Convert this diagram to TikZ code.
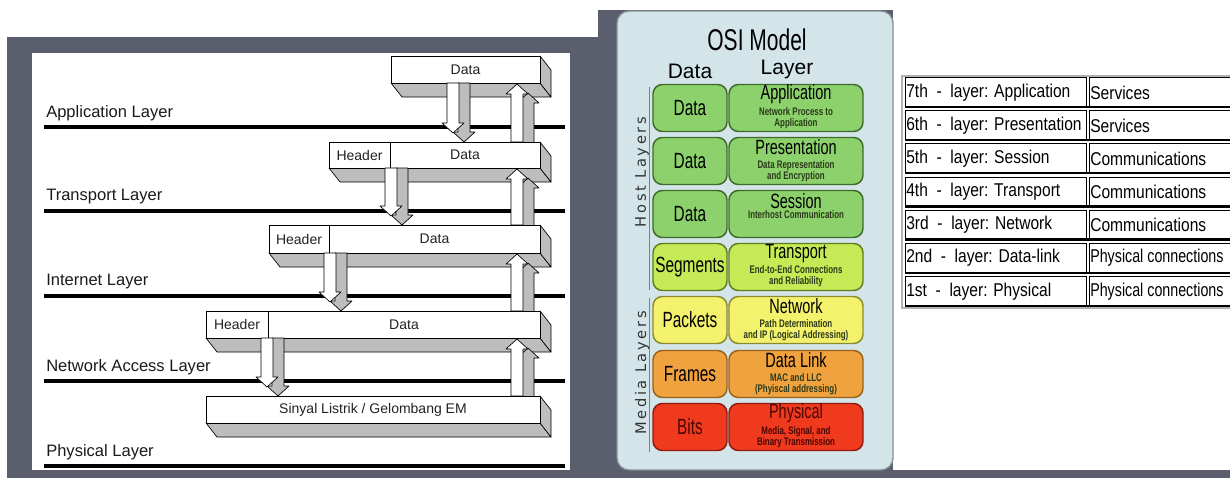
\documentclass[tikz,border=0pt]{standalone}
\usepackage{fontspec}
\setmainfont{Liberation Sans}
\newfontfamily\condf[FakeStretch=0.7]{Liberation Sans}
\newfontfamily\subf[FakeStretch=0.72]{Liberation Sans}
\newfontfamily\tblf[FakeStretch=0.84]{Liberation Sans}
\newfontfamily\tblnf[FakeStretch=0.77]{Liberation Sans}
\newfontfamily\vertf[LetterSpace=18]{DejaVu Sans}
\newcommand\fsz[1]{\fontsize{#1}{#1}\selectfont}
\definecolor{slate}{HTML}{5B5E6D}
\definecolor{osibg}{HTML}{D4E5EA}
\definecolor{osibd}{HTML}{7F8F94}
\definecolor{gfill}{HTML}{8DD16C}\definecolor{gbd}{HTML}{3E6B2A}
\definecolor{lfill}{HTML}{C5EA55}\definecolor{lbd}{HTML}{5E7D1E}
\definecolor{yfill}{HTML}{F4F16C}\definecolor{ybd}{HTML}{8C8A2E}
\definecolor{ofill}{HTML}{F0A23F}\definecolor{obd}{HTML}{99621B}
\definecolor{rfill}{HTML}{F03A1E}\definecolor{rbd}{HTML}{8E1B0E}
\definecolor{rtext}{HTML}{4A0505}
\definecolor{sidegray}{HTML}{BDBDBD}
\tikzset{
  layline/.style={line width=2.3pt,black},
  laylab/.style={anchor=west,inner sep=0pt,font=\fsz{12.4}\color[HTML]{1A1A1A}},
  boxside/.style={fill=sidegray,draw=black,line width=0.5pt,line join=round},
  boxfront/.style={fill=white,draw=black,line width=0.6pt},
  btext/.style={inner sep=0pt,font=\fsz{10.5}\color[HTML]{222222}},
  arrshade/.style={fill=sidegray,draw=black,line width=0.5pt,line join=round},
  arrfront/.style={fill=white,draw=black,line width=0.5pt,line join=round},
  osibox/.style={draw=#1,line width=1.1pt,rounded corners=7pt,minimum height=35.25pt,inner sep=0pt},
  osid/.style={osibox=#1,minimum width=55.5pt,font=\condf\fsz{16.5}},
  osil/.style={osibox=#1,minimum width=100.5pt},
  ttl/.style={inner sep=0pt,font=\condf\fsz{15.5}},
  subt/.style={inner sep=0pt,align=center,font=\subf\bfseries\fsz{8.25}\color[HTML]{2A3A1A}},
  vlab/.style={rotate=90,inner sep=0pt,font=\vertf\fsz{11}\color[HTML]{333333}},
  cellbd/.style={draw=black,line width=0.6pt},
  rowbot/.style={line width=1.8pt,black},
  tbltext/.style={anchor=west,inner sep=0pt,font=\tblf\fsz{13.9}}
}
% 3-D box: x1,y1,x2,y2
\newcommand\pbox[4]{%
  \filldraw[boxside] (#1,#4) -- (#3,#4) -- (#3+11,#4+14) -- (#1+11,#4+14) -- cycle;
  \filldraw[boxside] (#3,#2) -- (#3+11,#2+14) -- (#3+11,#4+14) -- (#3,#4) -- cycle;
  \filldraw[boxfront] (#1,#2) rectangle (#3,#4);}
% down arrow: cx, top, tip
\newcommand\pdarrow[3]{%
  \filldraw[arrshade,shift={(11,9)}] (#1-6,#2-9) -- (#1+6,#2-9) -- (#1+6,#3-10) -- (#1+11,#3-10) -- (#1,#3) -- (#1-11,#3-10) -- (#1-6,#3-10) -- cycle;
  \filldraw[arrfront] (#1-6,#2) -- (#1+6,#2) -- (#1+6,#3-10) -- (#1+11,#3-10) -- (#1,#3) -- (#1-11,#3-10) -- (#1-6,#3-10) -- cycle;}
% up arrow: cx, bottom, tip
\newcommand\puarrow[3]{%
  \filldraw[arrshade,shift={(11,9)}] (#1-6,#2) -- (#1-6,#3+10) -- (#1-11,#3+10) -- (#1,#3) -- (#1+11,#3+10) -- (#1+6,#3+10) -- (#1+6,#2) -- cycle;
  \filldraw[arrfront] (#1-6,#2) -- (#1-6,#3+10) -- (#1-11,#3+10) -- (#1,#3) -- (#1+11,#3+10) -- (#1+6,#3+10) -- (#1+6,#2) -- cycle;}
\begin{document}
\begin{tikzpicture}[x=0.75pt,y=-0.75pt]
\useasboundingbox (0,0) rectangle (1230,478);
\clip (0,0) rectangle (1230,478);
\fill[white] (0,0) rectangle (1230,478);
% ---------------- left panel ----------------
\fill[slate] (7,37) rectangle (617,478);
\fill[slate] (598,10) rectangle (893,478);
\fill[slate] (893,470) rectangle (1230,478);
\fill[white] (32,53) rectangle (570,470);
\draw[layline] (44,127) -- (565,127);
\draw[layline] (44,211) -- (565,211);
\draw[layline] (44,296) -- (565,296);
\draw[layline] (44,381) -- (565,381);
\draw[layline] (44,466) -- (565,466);
\node[laylab] (lapp) at (46,113) {Application Layer};
\node[laylab] (ltra) at (46,197) {Transport Layer};
\node[laylab] (lint) at (46,282) {Internet Layer};
\node[laylab] (lnet) at (46,367) {Network Access Layer};
\node[laylab] (lphy) at (46,452) {Physical Layer};
% box 1
\pbox{391}{56}{540}{83}
\node[btext] (b1d) at (465.5,69.5) {Data};
\pdarrow{453}{83}{133}
\puarrow{517}{142}{84}
% box 2
\pbox{329}{142}{540}{168}
\draw[black,line width=0.6pt] (390,142) -- (390,168);
\node[btext] (b2h) at (359.5,155) {Header};
\node[btext] (b2d) at (465,155) {Data};
\pdarrow{391}{168}{216}
\puarrow{517}{225}{169}
% box 3
\pbox{269}{225}{540}{253}
\draw[black,line width=0.6pt] (329,225) -- (329,253);
\node[btext] (b3h) at (299,239) {Header};
\node[btext] (b3d) at (434.5,239) {Data};
\pdarrow{330}{253}{302}
\puarrow{517}{311}{254}
% box 4
\pbox{206}{311}{540}{338}
\draw[black,line width=0.6pt] (268,311) -- (268,338);
\node[btext] (b4h) at (237,324.5) {Header};
\node[btext] (b4d) at (404,324.5) {Data};
\pdarrow{267}{338}{387}
\puarrow{517}{396}{339}
% box 5
\pbox{206}{396}{540}{423}
\node[btext] (b5) at (373,409.5) {Sinyal Listrik / Gelombang EM};
% ---------------- OSI panel ----------------
\filldraw[fill=osibg,draw=osibd,line width=1pt,rounded corners=9pt] (617,11) rectangle (893,470);
\node[inner sep=0pt,font=\condf\fsz{22.5}] (osit) at (757,40) {OSI Model};
\node[inner sep=0pt,font=\fsz{15.75}] (hdata) at (690,71) {Data};
\node[inner sep=0pt,font=\fsz{15.75}] (hlayer) at (787,69) {Layer};
\draw[gray,line width=0.6pt] (649,87) -- (649,290);
\draw[gray,line width=0.6pt] (649,298) -- (649,452);
\node[vlab] (host) at (642,172) {Host Layers};
\node[vlab] (media) at (642,373) {Media Layers};
% row 1
\node[osid=gbd,fill=gfill] (d1) at (690,108) {Data};
\node[osil=gbd,fill=gfill] (l1) at (796,108) {};
\node[ttl] (t1) at (796,94) {Application};
\node[subt] (s1) at (796,118) {Network Process to\\Application};
% row 2
\node[osid=gbd,fill=gfill] (d2) at (690,161) {Data};
\node[osil=gbd,fill=gfill] (l2) at (796,161) {};
\node[ttl] (t2) at (796,147) {Presentation};
\node[subt] (s2) at (796,171) {Data Representation\\and Encryption};
% row 3
\node[osid=gbd,fill=gfill] (d3) at (690,214) {Data};
\node[osil=gbd,fill=gfill] (l3) at (796,214) {};
\node[ttl] (t3) at (796,201) {Session};
\node[subt] (s3) at (796,215) {Interhost Communication};
% row 4
\node[osid=lbd,fill=lfill] (d4) at (690,267) {Segments};
\node[osil=lbd,fill=lfill] (l4) at (796,267) {};
\node[ttl] (t4) at (796,254) {Transport};
\node[subt] (s4) at (796,276) {End-to-End Connections\\and Reliability};
% row 5
\node[osid=ybd,fill=yfill] (d5) at (690,320) {Packets};
\node[osil=ybd,fill=yfill] (l5) at (796,320) {};
\node[ttl] (t5) at (796,306) {Network};
\node[subt] (s5) at (796,330) {Path Determination\\and IP (Logical Addressing)};
% row 6
\node[osid=obd,fill=ofill] (d6) at (690,374) {Frames};
\node[osil=obd,fill=ofill] (l6) at (796,374) {};
\node[ttl] (t6) at (796,360) {Data Link};
\node[subt] (s6) at (796,384) {MAC and LLC\\(Phyiscal addressing)};
% row 7
\node[osid=rbd,fill=rfill,text=rtext] (d7) at (690,427) {Bits};
\node[osil=rbd,fill=rfill] (l7) at (796,427) {};
\node[ttl,text=rtext] (t7) at (796,413) {Physical};
\node[subt,text=rtext] (s7) at (796,437) {Media, Signal, and\\Binary Transmission};
% ---------------- table ----------------
\draw[gray!60,line width=1.2pt] (902,76) rectangle (1245,308);
\foreach \i/\a/\b in {0/{7th~~-~~layer: Application}/Services,
                      1/{6th~~-~~layer: Presentation}/Services,
                      2/{5th~~-~~layer: Session}/Communications,
                      3/{4th~~-~~layer: Transport}/Communications,
                      4/{3rd~~-~~layer: Network}/Communications,
                      5/{2nd~~-~~layer: Data-link}/{\tblnf Physical connections},
                      6/{1st~~-~~layer: Physical}/{\tblnf Physical connections}}{
  \pgfmathsetmacro\tp{76+\i*33.14}
  \draw[cellbd] (905,\tp+1.5) rectangle (1086,\tp+31);
  \draw[cellbd] (1089,\tp+1.5) rectangle (1245,\tp+31);
  \draw[rowbot] (905,\tp+31) -- (1245,\tp+31);
  \node[tbltext] (ra\i) at (906,\tp+16.5) {\a};
  \node[tbltext] (rb\i) at (1090,\tp+16.5) {\b};
}
\end{tikzpicture}
\end{document}
